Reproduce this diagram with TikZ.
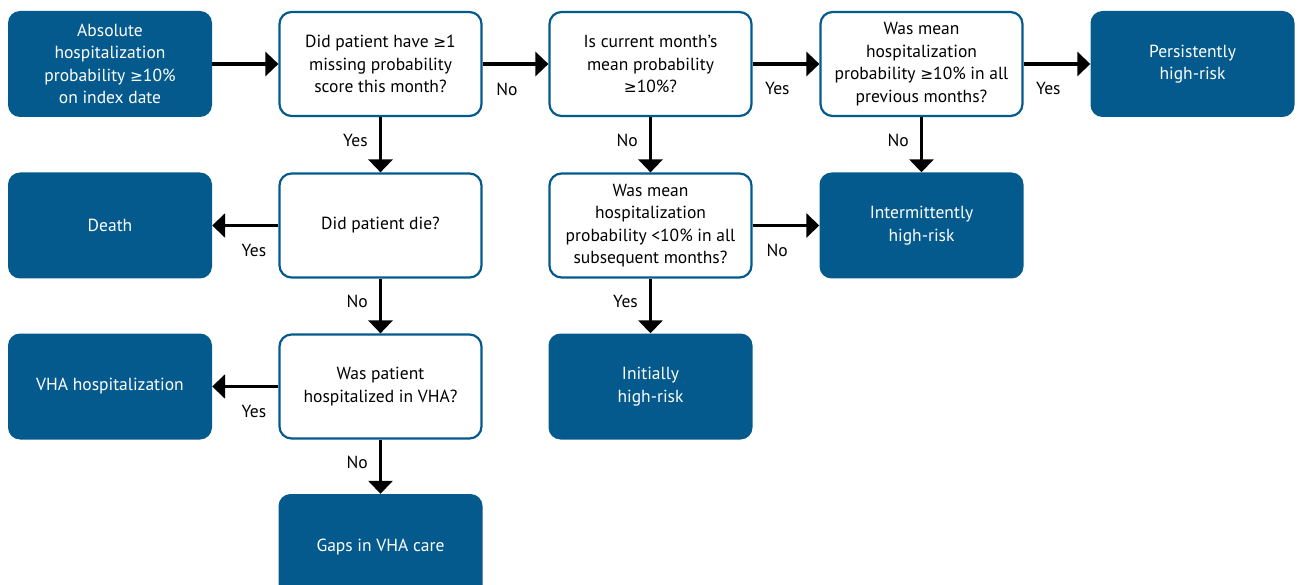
\documentclass[tikz,border=0pt]{standalone}
\usepackage{fontspec}
\setmainfont{PT Sans}
\newfontfamily\dejavu[Scale=0.88]{DejaVu Sans}
\newcommand{\gsym}{{\dejavu ≥}}
\usetikzlibrary{arrows.meta}
\definecolor{vablue}{HTML}{045A8C}

\begin{document}
\begin{tikzpicture}[x=1pt,y=-1pt,font=\fontsize{17.5}{22.5}\selectfont]
      \tikzstyle{box}=[rounded corners=12pt,minimum width=204pt,minimum height=106pt,align=center,inner sep=0pt]
      \tikzstyle{outcome}=[box,fill=vablue,text=white]
      \tikzstyle{question}=[box,draw=vablue,line width=2.2pt,fill=white,minimum width=202pt,minimum height=104pt]
      \tikzstyle{flow}=[line width=3.5pt,-{Triangle[length=13pt,width=24pt]}]
      \tikzstyle{lblh}=[below=17pt,pos=0.37,inner sep=0pt]
      \tikzstyle{lblv}=[left=11pt,pos=0.42,inner sep=0pt]
      \clip (0,0) rectangle (1298,585);
      % column 1: outcomes on the left
      \node[outcome] at (110,64) (start) {Absolute\\hospitalization\\probability \gsym10\%\\on index date};
      \node[outcome] at (110,225.5) (death) {Death};
      \node[outcome] at (110,386.5) (hosp) {VHA hospitalization};
      % column 2
      \node[question] at (380.5,64) (missing) {Did patient have \gsym1\\missing probability\\score this month?};
      \node[question] at (380.5,225.5) (die) {Did patient die?};
      \node[question] at (380.5,386.5) (invha) {Was patient\\hospitalized in VHA?};
      \node[outcome] at (380.5,547) (gaps) {Gaps in VHA care};
      % column 3
      \node[question] at (650.5,64) (current) {Is current month's\\mean probability\\\gsym10\%?};
      \node[question] at (650.5,225.5) (subseq) {Was mean\\hospitalization\\probability <10\% in all\\subsequent months?};
      \node[outcome] at (650.5,386.5) (initial) {Initially\\high-risk};
      % column 4 and 5
      \node[question] at (921.5,64) (previous) {Was mean\\hospitalization\\probability \gsym10\% in all\\previous months?};
      \node[outcome] at (921.5,225.5) (intermit) {Intermittently\\high-risk};
      \node[outcome] at (1192.5,64) (persist) {Persistently\\high-risk};
      % connectors
      \draw (start) edge[flow] (missing);
      \draw (missing) edge[flow] node[lblh]{No} (current);
      \draw (current) edge[flow] node[lblh]{Yes} (previous);
      \draw (previous) edge[flow] node[lblh]{Yes} (persist);
      \draw (missing) edge[flow] node[lblv]{Yes} (die);
      \draw (die) edge[flow] node[lblh]{Yes} (death);
      \draw (die) edge[flow] node[lblv]{No} (invha);
      \draw (invha) edge[flow] node[lblh]{Yes} (hosp);
      \draw (invha) edge[flow] node[lblv]{No} (gaps);
      \draw (current) edge[flow] node[lblv]{No} (subseq);
      \draw (subseq) edge[flow] node[lblh]{No} (intermit);
      \draw (subseq) edge[flow] node[lblv]{Yes} (initial);
      \draw (previous) edge[flow] node[lblv]{No} (intermit);
    \end{tikzpicture}
\end{document}
